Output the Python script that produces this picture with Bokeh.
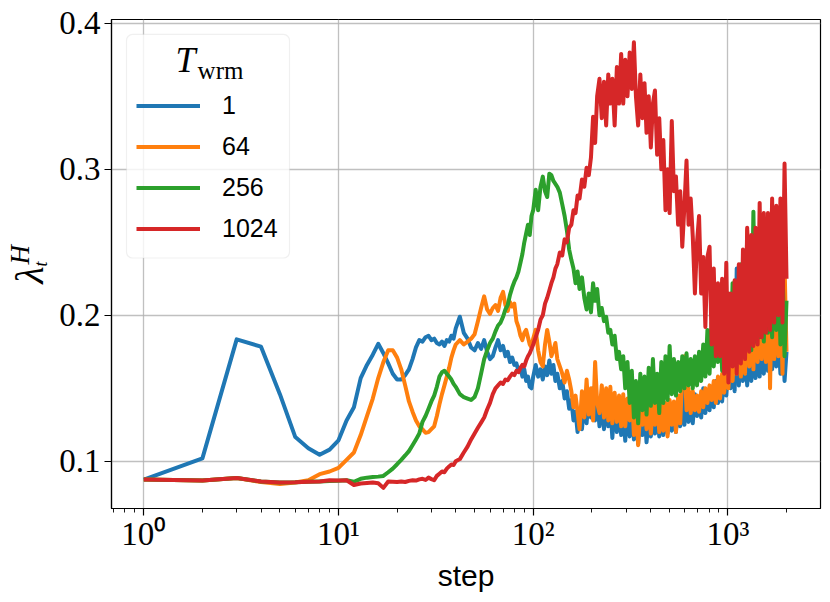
from math import log10, pi
from bokeh.plotting import figure
from bokeh.layouts import row
from bokeh.models import (Range1d, FixedTicker, Label, BoxAnnotation, Legend, LegendItem)
from bokeh.embed import file_html
from bokeh.resources import INLINE

# ---------------- data ----------------
steps = [
    1, 2, 3, 4, 5, 6, 7, 8, 9, 10,
    11, 12, 13, 14, 15, 16, 17, 18, 19, 20,
    21, 22, 23, 24, 25, 26, 27, 28, 29, 30,
    31, 32, 33, 34, 35, 36, 37, 38, 39, 40,
    42, 44, 46, 48, 50, 52, 54, 56, 58, 60,
    62, 64, 66, 68, 70, 72, 74, 76, 78, 80,
    82, 84, 86, 88, 90, 92, 94, 96, 98, 100,
    103, 106, 109, 112, 115, 118, 121, 124, 127, 130,
    133, 137, 141, 145, 149, 153, 157, 161, 165, 169,
    173, 178, 183, 188, 193, 198, 203, 208, 213, 219,
    225, 231, 237, 243, 249, 255, 262, 269, 276, 283,
    290, 297, 305, 313, 321, 329, 337, 346, 355, 364,
    373, 382, 392, 402, 412, 422, 433, 444, 455, 466,
    478, 490, 502, 515, 528, 541, 555, 569, 583, 598,
    613, 628, 644, 660, 677, 694, 711, 729, 747, 766,
    785, 805, 825, 846, 867, 889, 911, 934, 957, 981,
    1006, 1031, 1057, 1083, 1110, 1138, 1166, 1195, 1225, 1256,
    1287, 1319, 1352, 1386, 1421, 1456, 1492, 1529, 1567, 1606,
    1646, 1687, 1729, 1772, 1816, 1861, 1907, 1954, 2000,
]

lam_T1 = [
    0.0875, 0.1020, 0.1835, 0.1785, 0.1460, 0.1166, 0.1090, 0.1045, 0.1080, 0.1144,
    0.1280, 0.1370, 0.1570, 0.1660, 0.1730, 0.1805, 0.1740, 0.1670, 0.1600, 0.1560,
    0.1560, 0.1590, 0.1630, 0.1700, 0.1780, 0.1830, 0.1820, 0.1850, 0.1860, 0.1830,
    0.1840, 0.1810, 0.1800, 0.1820, 0.1790, 0.1830, 0.1820, 0.1860, 0.1840, 0.1910,
    0.1990, 0.1880, 0.1840, 0.1780, 0.1760, 0.1810, 0.1770, 0.1830, 0.1750, 0.1700,
    0.1720, 0.1780, 0.1830, 0.1760, 0.1790, 0.1720, 0.1750, 0.1680, 0.1710, 0.1660,
    0.1670, 0.1620, 0.1640, 0.1580, 0.1630, 0.1550, 0.1580, 0.1510, 0.1500, 0.1580,
    0.1660, 0.1580, 0.1630, 0.1560, 0.1650, 0.1590, 0.1690, 0.1600, 0.1660, 0.1550,
    0.1600, 0.1500, 0.1550, 0.1430, 0.1480, 0.1360, 0.1420, 0.1280, 0.1340, 0.1200,
    0.1350, 0.1220, 0.1400, 0.1260, 0.1450, 0.1300, 0.1500, 0.1280, 0.1430, 0.1240,
    0.1400, 0.1220, 0.1460, 0.1240, 0.1380, 0.1160, 0.1400, 0.1200, 0.1370, 0.1180,
    0.1340, 0.1140, 0.1380, 0.1170, 0.1420, 0.1150, 0.1320, 0.1120, 0.1360, 0.1180,
    0.1350, 0.1130, 0.1300, 0.1170, 0.1370, 0.1190, 0.1380, 0.1170, 0.1400, 0.1180,
    0.1360, 0.1190, 0.1400, 0.1210, 0.1380, 0.1200, 0.1420, 0.1240, 0.1500, 0.1250,
    0.1450, 0.1270, 0.1400, 0.1260, 0.1460, 0.1310, 0.1430, 0.1300, 0.1500, 0.1330,
    0.1480, 0.1350, 0.1500, 0.1370, 0.1550, 0.1400, 0.1520, 0.1410, 0.1600, 0.1450,
    0.1650, 0.1500, 0.1720, 0.1480, 0.2320, 0.1520, 0.1760, 0.1550, 0.1800, 0.1520,
    0.1780, 0.1550, 0.1850, 0.1570, 0.1800, 0.1580, 0.1900, 0.1600, 0.1820, 0.1620,
    0.1880, 0.1630, 0.1920, 0.1650, 0.1850, 0.1600, 0.1950, 0.1550, 0.1750,
]

lam_T64 = [
    0.0875, 0.0868, 0.0885, 0.0858, 0.0845, 0.0855, 0.0870, 0.0912, 0.0930, 0.0955,
    0.1010, 0.1060, 0.1180, 0.1310, 0.1430, 0.1570, 0.1680, 0.1760, 0.1760, 0.1710,
    0.1630, 0.1520, 0.1410, 0.1340, 0.1280, 0.1240, 0.1220, 0.1195, 0.1200, 0.1220,
    0.1240, 0.1310, 0.1390, 0.1460, 0.1520, 0.1580, 0.1640, 0.1710, 0.1760, 0.1800,
    0.1830, 0.1800, 0.1820, 0.1840, 0.1870, 0.1960, 0.2050, 0.2130, 0.2040, 0.2010,
    0.2050, 0.2070, 0.2030, 0.2120, 0.2160, 0.2070, 0.2030, 0.2090, 0.2060, 0.2080,
    0.1960, 0.1920, 0.1860, 0.1830, 0.1880, 0.1900, 0.1850, 0.1800, 0.1780, 0.1840,
    0.1900, 0.1760, 0.1680, 0.1650, 0.1800, 0.1900, 0.1820, 0.1720, 0.1760, 0.1810,
    0.1700, 0.1650, 0.1600, 0.1540, 0.1620, 0.1560, 0.1480, 0.1370, 0.1450, 0.1340,
    0.1220, 0.1480, 0.1300, 0.1560, 0.1320, 0.1500, 0.1280, 0.1680, 0.1400, 0.1330,
    0.1520, 0.1300, 0.1500, 0.1280, 0.1510, 0.1260, 0.1470, 0.1270, 0.1450, 0.1240,
    0.1460, 0.1240, 0.1430, 0.1280, 0.1490, 0.1180, 0.1400, 0.1110, 0.1350, 0.1250,
    0.1400, 0.1220, 0.1380, 0.1190, 0.1400, 0.1250, 0.1430, 0.1200, 0.1450, 0.1210,
    0.1400, 0.1170, 0.1420, 0.1250, 0.1410, 0.1200, 0.1450, 0.1260, 0.1600, 0.1720,
    0.1350, 0.1500, 0.1330, 0.1480, 0.1350, 0.1450, 0.1340, 0.1480, 0.1370, 0.1500,
    0.1400, 0.1520, 0.1420, 0.1550, 0.1400, 0.1580, 0.1430, 0.1600, 0.1470, 0.1620,
    0.1500, 0.1750, 0.1550, 0.1800, 0.1600, 0.2000, 0.1580, 0.1900, 0.1600, 0.2580,
    0.1650, 0.2050, 0.1630, 0.2100, 0.1680, 0.2150, 0.1700, 0.2250, 0.1680, 0.2650,
    0.1500, 0.2300, 0.1700, 0.2400, 0.1720, 0.2250, 0.1600, 0.2350, 0.1750,
]

lam_T256 = [
    0.0875, 0.0868, 0.0885, 0.0862, 0.0855, 0.0856, 0.0860, 0.0862, 0.0865, 0.0867,
    0.0870, 0.0860, 0.0880, 0.0888, 0.0892, 0.0895, 0.0900, 0.0925, 0.0950, 0.0980,
    0.1010, 0.1040, 0.1070, 0.1110, 0.1150, 0.1190, 0.1270, 0.1310, 0.1360, 0.1410,
    0.1450, 0.1510, 0.1580, 0.1610, 0.1620, 0.1600, 0.1580, 0.1560, 0.1530, 0.1510,
    0.1460, 0.1440, 0.1430, 0.1420, 0.1440, 0.1500, 0.1600, 0.1700, 0.1760, 0.1810,
    0.1840, 0.1890, 0.1930, 0.1950, 0.1990, 0.2040, 0.2070, 0.2140, 0.2190, 0.2230,
    0.2260, 0.2300, 0.2360, 0.2420, 0.2500, 0.2560, 0.2620, 0.2550, 0.2680, 0.2720,
    0.2860, 0.2720, 0.2880, 0.2950, 0.2850, 0.2810, 0.2970, 0.2960, 0.2920, 0.2900,
    0.2880, 0.2840, 0.2760, 0.2680, 0.2580, 0.2450, 0.2380, 0.2320, 0.2220, 0.2300,
    0.2180, 0.2260, 0.2120, 0.2040, 0.2150, 0.2020, 0.2220, 0.2100, 0.2180, 0.2000,
    0.2050, 0.1960, 0.1990, 0.1880, 0.1900, 0.1800, 0.1860, 0.1700, 0.1750, 0.1630,
    0.1720, 0.1500, 0.1680, 0.1400, 0.1620, 0.1300, 0.1550, 0.1260, 0.1600, 0.1350,
    0.1580, 0.1320, 0.1640, 0.1380, 0.1700, 0.1400, 0.1600, 0.1330, 0.1680, 0.1400,
    0.1720, 0.1420, 0.1790, 0.1460, 0.1700, 0.1450, 0.1680, 0.1480, 0.1720, 0.1500,
    0.1740, 0.1520, 0.1700, 0.1500, 0.1720, 0.1520, 0.1750, 0.1550, 0.1800, 0.1580,
    0.1900, 0.1600, 0.1950, 0.1650, 0.1850, 0.1680, 0.1950, 0.1620, 0.1980, 0.1700,
    0.2150, 0.1700, 0.2220, 0.1750, 0.2180, 0.1720, 0.2350, 0.1780, 0.2250, 0.1800,
    0.2400, 0.1760, 0.2710, 0.1820, 0.2350, 0.1850, 0.2450, 0.1820, 0.2400, 0.1880,
    0.2500, 0.1850, 0.2450, 0.1900, 0.2400, 0.1800, 0.2350, 0.1720, 0.2100,
]

lam_T1024 = [
    0.0875, 0.0868, 0.0885, 0.0862, 0.0855, 0.0856, 0.0860, 0.0862, 0.0870, 0.0868,
    0.0870, 0.0838, 0.0848, 0.0852, 0.0855, 0.0850, 0.0818, 0.0862, 0.0860, 0.0858,
    0.0862, 0.0858, 0.0866, 0.0870, 0.0868, 0.0876, 0.0880, 0.0872, 0.0888, 0.0878,
    0.0870, 0.0900, 0.0915, 0.0930, 0.0925, 0.0950, 0.0965, 0.0978, 0.0975, 0.1000,
    0.1015, 0.1060, 0.1100, 0.1150, 0.1190, 0.1230, 0.1265, 0.1300, 0.1355, 0.1400,
    0.1460, 0.1500, 0.1520, 0.1540, 0.1530, 0.1560, 0.1555, 0.1580, 0.1600, 0.1590,
    0.1620, 0.1610, 0.1640, 0.1660, 0.1650, 0.1690, 0.1720, 0.1740, 0.1770, 0.1800,
    0.1850, 0.1900, 0.1970, 0.2000, 0.2080, 0.2120, 0.2170, 0.2220, 0.2260, 0.2320,
    0.2350, 0.2430, 0.2410, 0.2520, 0.2500, 0.2600, 0.2620, 0.2720, 0.2700, 0.2820,
    0.2800, 0.2930, 0.2880, 0.3010, 0.2960, 0.3080, 0.3360, 0.3180, 0.3500, 0.3620,
    0.3350, 0.3600, 0.3300, 0.3650, 0.3450, 0.3620, 0.3300, 0.3700, 0.3450, 0.3790,
    0.3450, 0.3750, 0.3500, 0.3800, 0.3550, 0.3870, 0.3500, 0.3300, 0.3650, 0.3350,
    0.3590, 0.3250, 0.3500, 0.3150, 0.3450, 0.3540, 0.3100, 0.3350, 0.3000, 0.3200,
    0.2720, 0.3000, 0.2700, 0.3330, 0.2850, 0.2950, 0.2620, 0.2850, 0.2470, 0.2750,
    0.3060, 0.2620, 0.2800, 0.2540, 0.2150, 0.2500, 0.2680, 0.2150, 0.2400, 0.1920,
    0.2400, 0.2470, 0.1800, 0.2320, 0.1720, 0.2220, 0.1720, 0.2250, 0.1600, 0.2360,
    0.1540, 0.2150, 0.1650, 0.2240, 0.1600, 0.2350, 0.1670, 0.2450, 0.1700, 0.2600,
    0.1750, 0.2550, 0.1790, 0.2600, 0.1800, 0.2770, 0.1850, 0.2700, 0.1880, 0.2700,
    0.1900, 0.2800, 0.1950, 0.2750, 0.2000, 0.2800, 0.1950, 0.3040, 0.2250,
]

series_labels = ["1", "64", "256", "1024"]
series_colors = ["#1f77b4", "#ff7f0e", "#2ca02c", "#d62728"]
y_ticks = [0.1, 0.2, 0.3, 0.4]
y_tick_labels = ["0.1", "0.2", "0.3", "0.4"]
x_ticks = [1, 10, 100, 1000]
x_tick_labels = ["10\u2070", "10\u00b9", "10\u00b2", "10\u00b3"]

# ---------------- layout (page pixels) ----------------
TOTAL_W, TOTAL_H = 822, 594
LW = 50                      # width of the narrow label strip on the left
FL, FR, FT, FB = 111, 820, 19, 509   # plot frame edges on the page
W = TOTAL_W - LW
X0, X1 = 10 ** -0.1659, 10 ** 3.4756
Y0, Y1 = 0.06767, 0.40260


def fx(px):
    """page pixel x -> data x (log axis)"""
    return 10 ** (log10(X0) + (px - FL) / (FR - FL) * (log10(X1) - log10(X0)))


def fy(py):
    """page pixel y -> data y"""
    return Y1 - (py - FT) / (FB - FT) * (Y1 - Y0)


p = figure(width=W, height=TOTAL_H, x_axis_type="log",
           x_range=Range1d(X0, X1), y_range=Range1d(Y0, Y1),
           output_backend="svg", toolbar_location=None,
           min_border_left=FL - LW, min_border_right=TOTAL_W - FR,
           min_border_top=FT, min_border_bottom=TOTAL_H - FB)
p.background_fill_color = "white"
p.border_fill_color = "white"
p.outline_line_color = "black"
p.outline_line_width = 1.2

for g in (p.xgrid[0], p.ygrid[0]):
    g.grid_line_color = "#b0b0b0"
    g.grid_line_width = 1.3
    g.grid_line_alpha = 0.8

minor = [k * 10 ** e for e in range(-1, 4) for k in range(2, 10)]
p.xaxis.ticker = FixedTicker(ticks=x_ticks, minor_ticks=minor)
p.xaxis.major_label_overrides = {t: l for t, l in zip(x_ticks, x_tick_labels)}
p.yaxis.ticker = FixedTicker(ticks=y_ticks, minor_ticks=[])
p.yaxis.major_label_overrides = {t: l for t, l in zip(y_ticks, y_tick_labels)}

for ax in (p.xaxis[0], p.yaxis[0]):
    ax.axis_line_color = "black"
    ax.axis_line_width = 1.2
    ax.major_tick_line_color = "black"
    ax.major_tick_line_width = 1.2
    ax.major_tick_out = 7
    ax.major_tick_in = 0
    ax.minor_tick_line_color = "black"
    ax.minor_tick_line_width = 0.9
    ax.minor_tick_out = 4
    ax.minor_tick_in = 0
    ax.major_label_text_font = "Liberation Serif"
    ax.major_label_text_font_size = "33px"
    ax.major_label_text_color = "black"

p.yaxis.minor_tick_line_color = None
p.xaxis.major_label_standoff = 0
p.yaxis.major_label_standoff = 4
p.xaxis.axis_label = "step"
p.xaxis.axis_label_text_font = "Liberation Sans"
p.xaxis.axis_label_text_font_size = "30px"
p.xaxis.axis_label_text_font_style = "normal"
p.xaxis.axis_label_text_color = "black"
p.xaxis.axis_label_standoff = 4

renderers = []
for vals, col in zip([lam_T1, lam_T64, lam_T256, lam_T1024], series_colors):
    n = min(len(steps), len(vals))
    r = p.line(steps[:n], vals[:n], line_color=col, line_width=4,
               line_join="round")
    renderers.append(r)

# legend frame
box = BoxAnnotation(left=fx(126), right=fx(289), top=fy(34), bottom=fy(258),
                    fill_color="white", fill_alpha=0.8,
                    line_color="#cccccc", line_width=1.2, border_radius=6)
p.add_layout(box)

legend = Legend(items=[LegendItem(label=l, renderers=[r])
                       for l, r in zip(series_labels, renderers)])
legend.location = (15, 251.5)
legend.margin = 0
legend.padding = 10
legend.spacing = 4
legend.glyph_width = 64
legend.glyph_height = 37
legend.label_height = 37
legend.label_standoff = 22
legend.label_text_font = "Liberation Sans"
legend.label_text_font_size = "25px"
legend.label_text_color = "black"
legend.background_fill_alpha = 0
legend.border_line_alpha = 0
p.add_layout(legend)

# legend title  T_wrm  (anchored at glyph centres)
p.add_layout(Label(x=fx(185), y=fy(60), text="T", text_font="Liberation Serif",
                   text_font_style="italic", text_font_size="36px",
                   text_align="center", text_baseline="middle", text_color="black"))
p.add_layout(Label(x=fx(220), y=fy(70), text="wrm", text_font="Liberation Serif",
                   text_font_size="25px", text_align="center",
                   text_baseline="middle", text_color="black"))

# ---------------- y-axis label strip:  lambda_t^H ----------------
# (vertical extent of the strip's frame measured from the previous render)
lf = figure(width=LW, height=TOTAL_H, x_range=Range1d(0, LW),
            y_range=Range1d(TOTAL_H - 70, 0), output_backend="svg",
            toolbar_location=None, x_axis_location=None, y_axis_location=None,
            min_border=0, min_border_left=0, min_border_right=0,
            min_border_top=0, min_border_bottom=0, outline_line_color=None)
lf.background_fill_color = "white"
lf.border_fill_color = "white"
lf.xgrid.grid_line_color = None
lf.ygrid.grid_line_color = None
lf.add_layout(Label(x=28.5, y=274, text="\u03bb", angle=pi / 2,
                    text_font="Liberation Serif", text_font_style="italic",
                    text_font_size="40px", text_align="center",
                    text_baseline="middle", text_color="black"))
lf.add_layout(Label(x=19, y=252, text="H", angle=pi / 2,
                    text_font="Liberation Serif", text_font_style="italic",
                    text_font_size="27px", text_align="center",
                    text_baseline="middle", text_color="black"))
lf.add_layout(Label(x=40, y=262, text="t", angle=pi / 2,
                    text_font="Liberation Serif", text_font_style="italic",
                    text_font_size="18px", text_align="center",
                    text_baseline="middle", text_color="black"))

layout = row(lf, p, spacing=0)
open("out.html", "w").write(file_html(layout, INLINE))
